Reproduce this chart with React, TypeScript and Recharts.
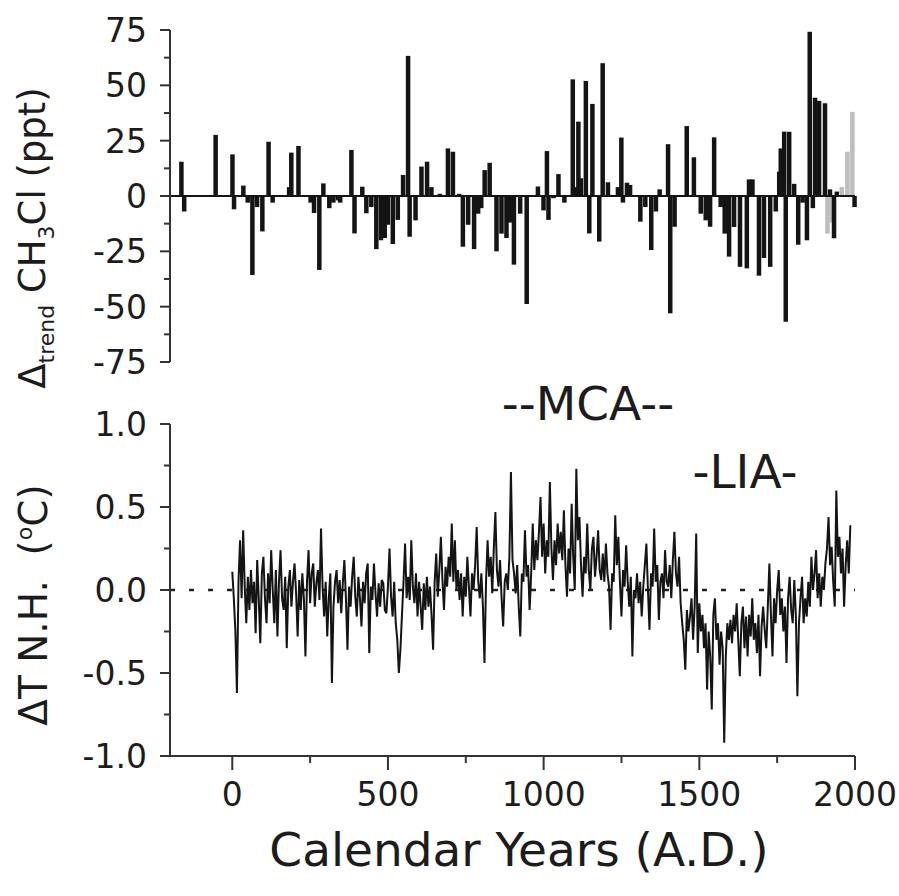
import React from 'react'
import { BarChart, Bar, Cell, LineChart, Line, XAxis, YAxis, ReferenceLine } from 'recharts'

const FONT = '"DejaVu Sans", sans-serif'
const INK = '#141414'
const AXIS = '#333'
const GREY = '#bdbdbd'

// top panel: detrended CH3Cl per ice-core sample (year A.D., ppt)
const ch3clYears = [
  -163, -154, -53, 1, 6, 36, 50, 65, 80, 97, 117, 130, 183, 190, 213, 252, 263, 280, 293, 312,
  325, 340, 347, 383, 393, 418, 431, 447, 463, 478, 490, 500, 516, 532, 549, 565, 570, 589, 608, 626,
  640, 667, 693, 709, 729, 741, 758, 777, 790, 800, 811, 827, 849, 865, 881, 893, 905, 925, 946, 982,
  1000, 1011, 1016, 1032, 1048, 1067, 1094, 1100, 1112, 1120, 1136, 1147, 1157, 1179, 1190, 1207, 1239, 1250, 1255, 1268,
  1278, 1311, 1327, 1346, 1361, 1373, 1400, 1407, 1421, 1460, 1483, 1505, 1521, 1535, 1548, 1569, 1582, 1596, 1612, 1631,
  1653, 1660, 1671, 1692, 1708, 1728, 1746, 1757, 1762, 1773, 1778, 1789, 1805, 1818, 1832, 1846, 1855, 1865, 1872, 1885,
  1904, 1920, 1933, 1942, 1999,
]
const ch3clValues = [
  15.5, -7, 27.6, 18.8, -6, 4.7, -3, -35.7, -5, -16, 24.5, -3, 4, 19.6, 22.6, -3, -7.7, -33.4, 5.7, -5.5,
  -3, -2, -3, 20.8, -16.9, 4.2, -7.8, -5, -24, -20, -19, -13, -21.7, -10.8, 9.5, 63.3, -18.4, -11, 13.3, 15.5,
  4, 1, 21.5, 20, 1, -22.9, -13, -24, -8, -5.5, 11.7, 15, -25, -17, -19, -12, -31, -8, -48.8, 4.3,
  -6.5, 20.3, -10.8, -1, 9.9, -3, 52.7, 4, 33.6, 8, 52, -16.9, 41.6, -20.6, 60, 6.2, 4, 26.4, -3, 6,
  5, -11.6, -5, -24.4, -7, 3, 23.4, -53, -13.9, 31.6, 17.5, -8, -11, -13.9, 26.5, -5, -17, -27.4, -14, -32,
  -32.7, 7.5, 7.5, -36, -28, -32, -7, 11, 21.5, 29.1, -56.8, 29, 5.5, -22, -3, -20, 74.2, -5.5, 44.4, 43,
  41.9, 3, -19.1, 2, -5,
]
// the most recent samples are drawn in grey
const greyYears = [1912, 1925, 1958, 1976, 1992]
const greyValues = [-17, -12, 4, 20, 38]

// bottom panel: NH temperature anomaly, one value every 5 years from A.D. 0
const tempFirstYear = 0
const tempStepYears = 5
const tempValues = [
  // 0-95
  0.11, -0.05, -0.25, -0.62, 0.05, 0.30, -0.05, 0.36, 0.02, -0.20, 0.08, -0.12, 0.12, -0.08, 0.05, -0.26, 0.18, -0.05, -0.32, 0.10,
  // 100-195
  0.20, -0.05, -0.20, 0.10, -0.08, 0.24, 0.00, -0.20, 0.12, -0.28, 0.05, 0.24, -0.05, -0.12, 0.08, -0.35, 0.02, 0.12, -0.10, 0.05,
  // 200-295
  0.16, -0.02, -0.28, 0.06, -0.12, 0.10, -0.05, -0.40, 0.05, 0.24, -0.08, 0.10, 0.16, -0.10, 0.04, 0.12, -0.06, 0.37, 0.02, -0.16,
  // 300-395
  0.05, -0.28, -0.05, 0.10, -0.56, -0.10, 0.05, 0.12, -0.08, 0.06, -0.14, 0.04, 0.18, -0.05, -0.36, 0.02, -0.10, 0.08, 0.20, -0.04,
  // 400-495
  -0.16, 0.08, -0.05, -0.22, 0.05, -0.08, 0.10, 0.16, -0.38, 0.02, -0.06, 0.16, -0.02, -0.16, 0.04, -0.10, 0.06, 0.04, -0.12, -0.14,
  // 500-595
  0.02, 0.25, -0.04, -0.16, 0.05, -0.20, -0.30, -0.50, -0.36, -0.15, 0.05, 0.28, -0.05, 0.08, -0.06, 0.30, 0.02, -0.08, 0.10, -0.16,
  // 600-695
  0.05, -0.10, -0.24, 0.04, -0.12, 0.08, -0.10, 0.02, -0.15, -0.36, 0.05, 0.22, -0.04, 0.12, 0.32, 0.06, -0.12, 0.14, 0.02, 0.20,
  // 700-795
  0.08, 0.40, 0.05, 0.30, 0.00, 0.12, -0.06, 0.10, -0.16, 0.08, -0.04, 0.20, 0.02, -0.16, 0.10, 0.00, 0.15, 0.38, 0.05, -0.05,
  // 800-895
  0.10, -0.10, -0.44, 0.05, 0.30, 0.08, 0.20, -0.02, 0.25, 0.47, 0.12, 0.02, 0.18, -0.05, -0.22, 0.05, 0.10, 0.00, 0.20, 0.71,
  // 900-995
  0.18, 0.10, -0.02, 0.15, -0.10, -0.28, 0.10, 0.05, 0.36, 0.08, 0.15, -0.12, 0.10, 0.40, 0.12, 0.30, 0.18, 0.35, 0.56, 0.20,
  // 1000-1095
  0.40, 0.10, 0.30, 0.20, 0.65, 0.25, 0.06, 0.30, 0.15, 0.40, 0.22, 0.35, 0.18, 0.48, 0.15, -0.04, 0.25, 0.10, 0.52, 0.20,
  // 1100-1195
  0.00, 0.73, 0.30, 0.44, 0.15, -0.04, 0.20, 0.10, 0.40, 0.12, 0.00, 0.25, 0.32, 0.08, 0.20, 0.36, 0.12, 0.06, 0.22, 0.05,
  // 1200-1295
  0.28, 0.10, 0.02, -0.24, 0.10, 0.05, 0.45, 0.15, 0.32, 0.05, -0.16, 0.12, 0.02, 0.27, 0.05, -0.10, 0.08, -0.40, 0.00, -0.05,
  // 1300-1395
  0.10, -0.08, 0.05, -0.16, 0.02, 0.15, 0.28, 0.00, -0.24, 0.10, 0.02, 0.37, 0.05, 0.15, -0.18, 0.05, 0.10, -0.05, 0.24, 0.05,
  // 1400-1495
  0.02, 0.15, -0.05, 0.18, 0.35, 0.10, 0.02, 0.20, -0.08, -0.20, -0.30, -0.48, -0.12, -0.25, -0.16, -0.05, -0.30, -0.10, 0.34, -0.38,
  // 1500-1595
  -0.08, -0.25, -0.15, -0.35, -0.20, -0.60, -0.25, -0.40, -0.72, -0.15, -0.05, -0.30, -0.20, -0.45, -0.25, -0.35, -0.92, -0.40, -0.20, -0.30,
  // 1600-1695
  -0.18, -0.32, -0.15, -0.25, -0.08, -0.30, -0.52, -0.20, -0.10, -0.35, -0.16, -0.40, -0.15, -0.28, -0.05, -0.30, -0.20, -0.38, -0.15, -0.52,
  // 1700-1795
  -0.22, -0.10, -0.24, -0.35, -0.10, 0.16, -0.15, -0.40, -0.05, -0.20, 0.00, 0.12, -0.15, -0.05, -0.25, -0.10, -0.44, -0.05, 0.08, -0.12,
  // 1800-1895
  -0.20, 0.06, -0.15, -0.64, -0.20, -0.05, 0.08, -0.20, -0.05, -0.16, 0.05, -0.10, 0.20, 0.00, 0.10, 0.24, -0.05, 0.10, -0.10, 0.08,
  // 1900-1985
  0.00, 0.16, 0.25, 0.44, 0.15, 0.26, 0.05, -0.10, 0.60, 0.20, 0.32, 0.10, 0.25, -0.10, 0.15, 0.30, 0.10, 0.39,
]

const ppTicks = [-75, -62.5, -50, -37.5, -25, -12.5, 0, 12.5, 25, 37.5, 50, 62.5, 75]
const dtTicks = [-1, -0.75, -0.5, -0.25, 0, 0.25, 0.5, 0.75, 1]
const yearTicks = [0, 250, 500, 750, 1000, 1250, 1500, 1750, 2000]

const barData = [
  ...ch3clYears.map((year, i) => ({ year, v: ch3clValues[i], grey: false })),
  ...greyYears.map((year, i) => ({ year, v: greyValues[i], grey: true })),
].sort((a, b) => a.year - b.year)

const tempData = tempValues.map((t, i) => ({ year: tempFirstYear + i * tempStepYears, t }))

const Y_TICK = 10
const Y_GAP = 13
const X_TICK = 14
const X_GAP = 12
const BAR_W = 4.5

// left axis tick: long line + label on majors, short line on minors
function LeftTick(props: any) {
  const { x, y, payload, isMajor, fmt } = props
  const axisX = x + Y_TICK + Y_GAP
  const major = isMajor(payload.value)
  return (
    <g>
      <line x1={axisX - (major ? Y_TICK : 6)} x2={axisX} y1={y} y2={y} stroke={AXIS} strokeWidth={2} />
      {major && (
        <text x={x} y={y} dy="0.36em" textAnchor="end" fontSize={33} fill="#1c1c1c" fontFamily={FONT}>
          {fmt(payload.value)}
        </text>
      )}
    </g>
  )
}

function BottomTick(props: any) {
  const { x, y, payload } = props
  const axisY = y - X_TICK - X_GAP
  const major = payload.value % 500 === 0
  return (
    <g>
      <line x1={x} x2={x} y1={axisY} y2={axisY + (major ? X_TICK : 7)} stroke={AXIS} strokeWidth={2} />
      {major && (
        <text x={x} y={y} dy="0.72em" textAnchor="middle" fontSize={33} fill="#1c1c1c" fontFamily={FONT}>
          {payload.value}
        </text>
      )}
    </g>
  )
}

// the numeric axis squeezes bar width to the closest sample gap, so draw a fixed-width rect centred on the slot
function SampleBar(props: any) {
  const { x, y, width, height, payload } = props
  if (x == null || y == null) return null
  const cx = x + width / 2
  const top = Math.min(y, y + height)
  return <rect x={cx - BAR_W / 2} y={top} width={BAR_W} height={Math.abs(height)} fill={payload.grey ? GREY : INK} />
}

export default function App() {
  return (
    <div style={{ position: 'absolute', left: 0, top: 0, width: 899, height: 896, background: '#fff' }}>
      <div style={{ position: 'absolute', left: 0, top: 0 }}>
        <BarChart width={899} height={400} data={barData} margin={{ top: 30, right: 44, bottom: 38, left: 110 }}>
          <XAxis dataKey="year" type="number" domain={[-200, 2000]} hide />
          <YAxis
            type="number"
            domain={[-75, 75]}
            ticks={ppTicks}
            interval={0}
            width={60}
            tickSize={Y_TICK}
            tickMargin={Y_GAP}
            tickLine={false}
            axisLine={{ stroke: AXIS, strokeWidth: 2 }}
            tick={(p: any) => <LeftTick {...p} isMajor={(v: number) => v % 25 === 0} fmt={(v: number) => `${v}`} />}
          />
          <ReferenceLine y={0} stroke={INK} strokeWidth={2} />
          <Bar dataKey="v" isAnimationActive={false} shape={(p: any) => <SampleBar {...p} />}>
            {barData.map((d, i) => (
              <Cell key={i} fill={d.grey ? GREY : INK} />
            ))}
          </Bar>
        </BarChart>
      </div>

      <div style={{ position: 'absolute', left: 0, top: 390 }}>
        <LineChart width={899} height={506} data={tempData} margin={{ top: 34, right: 44, bottom: 80, left: 110 }}>
          <XAxis
            dataKey="year"
            type="number"
            domain={[-200, 2000]}
            ticks={yearTicks}
            interval={0}
            height={60}
            tickSize={X_TICK}
            tickMargin={X_GAP}
            tickLine={false}
            axisLine={{ stroke: AXIS, strokeWidth: 2 }}
            tick={(p: any) => <BottomTick {...p} />}
          />
          <YAxis
            type="number"
            domain={[-1, 1]}
            ticks={dtTicks}
            interval={0}
            width={60}
            tickSize={Y_TICK}
            tickMargin={Y_GAP}
            tickLine={false}
            axisLine={{ stroke: AXIS, strokeWidth: 2 }}
            tick={(p: any) => <LeftTick {...p} isMajor={(v: number) => Math.abs(v * 2 - Math.round(v * 2)) < 1e-9} fmt={(v: number) => v.toFixed(1)} />}
          />
          <ReferenceLine y={0} stroke="#222" strokeWidth={2.5} strokeDasharray="5 14" />
          <Line
            type="linear"
            dataKey="t"
            stroke={INK}
            strokeWidth={2}
            dot={false}
            isAnimationActive={false}
          />
        </LineChart>
      </div>

      {/* titles and period annotations */}
      <svg width={899} height={896} style={{ position: 'absolute', left: 0, top: 0, pointerEvents: 'none' }} fontFamily={FONT} fill="#1c1c1c">
        <text transform="translate(45,238) rotate(-90)" textAnchor="middle" fontSize={37}>
          Δ<tspan fontSize={22} dy={9}>trend</tspan>
          <tspan dy={-9}> CH</tspan>
          <tspan fontSize={22} dy={9}>3</tspan>
          <tspan dy={-9}>Cl (ppt)</tspan>
        </text>
        <text transform="translate(47,605) rotate(-90)" textAnchor="middle" fontSize={39} style={{ whiteSpace: 'pre' }}>
          {'ΔT N.H.  ('}
          <tspan fontSize={22} dy={-15}>o</tspan>
          <tspan dy={15}>C)</tspan>
        </text>
        <text x={519} y={866} textAnchor="middle" fontSize={47}>Calendar Years (A.D.)</text>
        <text x={588} y={420} textAnchor="middle" fontSize={47}>--MCA--</text>
        <text x={745} y={488} textAnchor="middle" fontSize={47}>-LIA-</text>
      </svg>
    </div>
  )
}
